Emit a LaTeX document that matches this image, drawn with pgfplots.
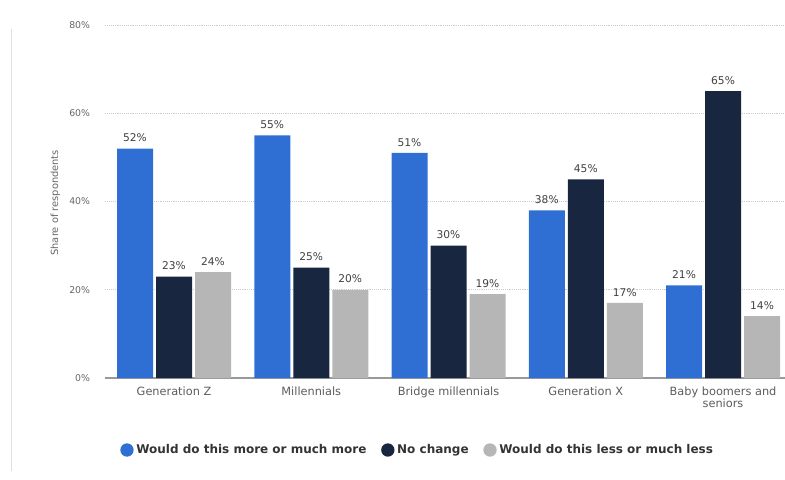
\documentclass[border=0pt]{standalone}
\usepackage{fontspec}
\setmainfont{DejaVu Sans}
\usepackage{pgfplots}
\pgfplotsset{compat=1.18}

\definecolor{cmore}{HTML}{2F6FD4}
\definecolor{csame}{HTML}{18263F}
\definecolor{cless}{HTML}{B6B6B6}
\definecolor{ctext}{HTML}{666666}

\begin{document}
\begin{tikzpicture}
  \useasboundingbox (0pt,0pt) rectangle (588.75pt,359.25pt);
  \draw[gray!25, line width=0.75pt] (8.25pt,6pt) -- (8.25pt,337.5pt);
  \begin{axis}[
      at={(79.05pt,75.75pt)}, anchor=south west,
      scale only axis,
      width=514.7pt, height=264.75pt,
      ybar=2.25pt, bar width=27pt,
      xmin=-0.5, xmax=4.5,
      ymin=0, ymax=80,
      xtick={0,1,2,3,4},
      xticklabels={Generation Z, Millennials, Bridge millennials, Generation X, {Baby boomers and\\seniors}},
      xticklabel style={font=\fontsize{8.5}{9.5}\selectfont, text=ctext!90!black, align=center, yshift=-3pt},
      ytick={0,20,40,60,80},
      yticklabel={\pgfmathprintnumber{\tick}\%},
      yticklabel style={font=\fontsize{7}{8}\selectfont, text=ctext, xshift=-8pt},
      /pgf/number format/assume math mode=true,
      major tick length=0pt,
      axis x line*=bottom, axis y line*=left,
      x axis line style={draw=gray!80, line width=0.9pt},
      y axis line style={draw=none},
      ymajorgrids,
      grid style={densely dotted, gray!40, line width=0.5pt},
      ylabel={Share of respondents},
      ylabel style={font=\fontsize{7.4}{8}\selectfont, text=ctext, xshift=-1pt},
      nodes near coords={\pgfmathprintnumber{\pgfplotspointmeta}\%},
      every node near coord/.append style={font=\fontsize{8}{9}\selectfont, text=black!75, yshift=1.5pt},
      legend columns=3,
      legend style={at={(0.4555,-0.204)}, anchor=center, draw=none, fill=none,
        font=\bfseries\fontsize{9}{10}\selectfont, text=black!80,
        /tikz/every even column/.append style={column sep=9pt}},
      legend image code/.code={\fill[#1] (4.5pt,0pt) circle (5pt);},
    ]
    \addplot[fill=cmore, draw=none] coordinates {(0,52) (1,55) (2,51) (3,38) (4,21)};
    \addplot[fill=csame, draw=none] coordinates {(0,23) (1,25) (2,30) (3,45) (4,65)};
    \addplot[fill=cless, draw=none] coordinates {(0,24) (1,20) (2,19) (3,17) (4,14)};
    \legend{Would do this more or much more, No change, Would do this less or much less}
  \end{axis}
\end{tikzpicture}
\end{document}
